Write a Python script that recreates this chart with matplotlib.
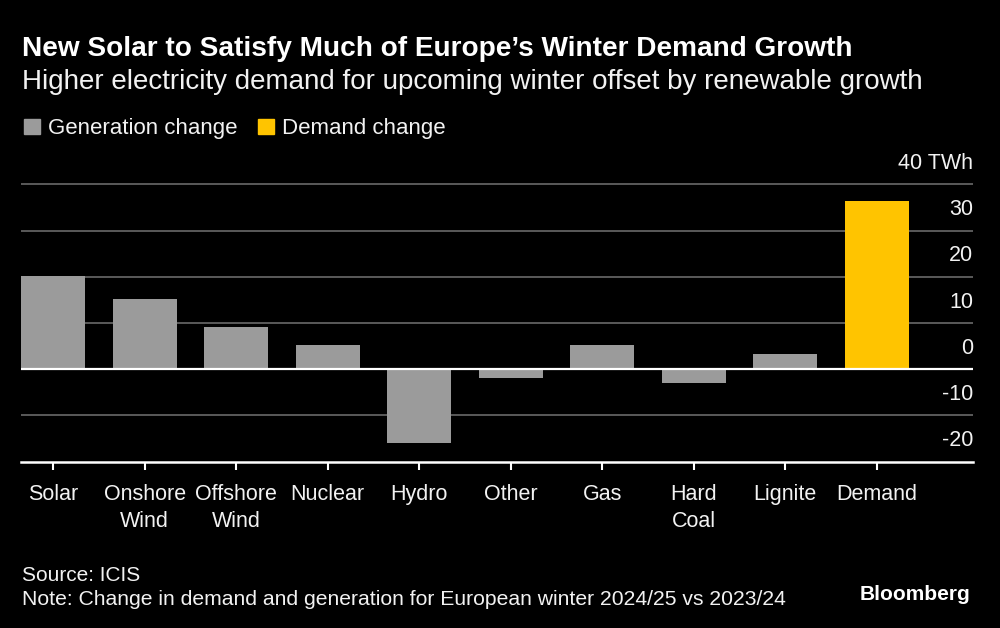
import numpy as np
import matplotlib.pyplot as plt
from matplotlib.patches import Patch
from matplotlib.transforms import offset_copy

plt.rcParams['font.family'] = ['Liberation Sans', 'DejaVu Sans']

categories = ["Solar", "Onshore\nWind", "Offshore\nWind", "Nuclear", "Hydro",
              "Other", "Gas", "Hard\nCoal", "Lignite", "Demand"]
values = [20.2, 15.2, 9.2, 5.2, -15.9, -1.9, 5.2, -2.9, 3.2, 36.3]
kinds = ["gen"] * 9 + ["demand"]
yticks = [-20, -10, 0, 10, 20, 30, 40]
ytick_labels = ["-20", "-10", "0", "10", "20", "30", "40 TWh"]

GRAY = "#9b9b9b"
YELLOW = "#ffc400"
TEXT = "#f2f2f2"

fig = plt.figure(figsize=(10, 6.28), dpi=100, facecolor="black")
ax = fig.add_axes([0.021, 0.2648, 0.952, 0.4454])
ax.set_facecolor("black")

x = np.arange(len(categories))
colors = [YELLOW if k == "demand" else GRAY for k in kinds]
ax.bar(x, values, width=0.7, color=colors, zorder=2)

ax.set_xlim(-0.35, 10.05)
ax.set_ylim(-20, 40.5)

# gridlines
for t in yticks:
    if t == -20:
        continue
    if t == 0:
        ax.axhline(0, color="white", lw=1.6, zorder=3)
    else:
        ax.axhline(t, color="#5a5a5a", lw=1.4, zorder=1)

# y labels sit above the gridlines on the right
lab_tr = offset_copy(ax.get_yaxis_transform(), fig=fig, x=0, y=15, units="points")
for t, lab in zip(yticks, ytick_labels):
    ax.text(1.0, t, lab, transform=lab_tr, ha="right", va="center",
            fontsize=15.5, color=TEXT)
ax.set_yticks([])

for s in ["top", "left", "right"]:
    ax.spines[s].set_visible(False)
ax.spines["bottom"].set_color("white")
ax.spines["bottom"].set_linewidth(1.8)

ax.set_xticks(x)
ax.set_xticklabels(categories, fontsize=15.5, color=TEXT, linespacing=1.35)
ax.tick_params(axis="x", colors="white", length=6, width=1.5, pad=10,
               labelcolor=TEXT)

fig.text(0.022, 0.922, "New Solar to Satisfy Much of Europe\u2019s Winter Demand Growth",
         fontsize=20.2, fontweight="bold", color="white", va="center")
fig.text(0.022, 0.870, "Higher electricity demand for upcoming winter offset by renewable growth",
         fontsize=20, color=TEXT, va="center")

handles = [Patch(color=GRAY), Patch(color=YELLOW)]
fig.legend(handles, ["Generation change", "Demand change"], loc="center left",
           bbox_to_anchor=(0.024, 0.795), ncol=2, frameon=False, fontsize=16,
           handlelength=0.7, handleheight=0.7, handletextpad=0.4,
           columnspacing=0.9, borderaxespad=0, borderpad=0, labelcolor=TEXT)

fig.text(0.022, 0.0835, "Source: ICIS", fontsize=15, color=TEXT, va="center")
fig.text(0.022, 0.045, "Note: Change in demand and generation for European winter 2024/25 vs 2023/24",
         fontsize=15.2, color=TEXT, va="center")
fig.text(0.970, 0.054, "Bloomberg", fontsize=15, fontweight="bold", color="white",
         ha="right", va="center")

fig.savefig("out.png", dpi=100, facecolor="black")
